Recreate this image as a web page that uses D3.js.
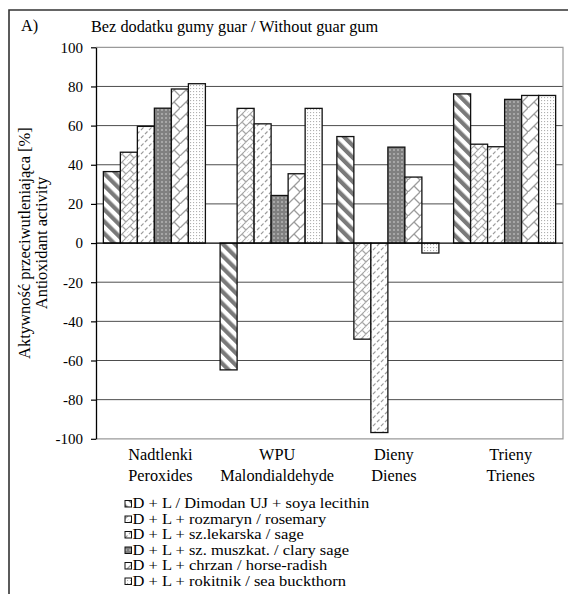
<!DOCTYPE html>
<html><head><meta charset="utf-8">
<script src="https://cdn.jsdelivr.net/npm/d3@7"></script>
<style>
body{margin:0;background:#fff;}
svg{display:block;font-family:"Liberation Serif","Times New Roman",serif;}
</style></head><body>
<svg id="c" width="568" height="594"></svg>
<script>
const categories = ["Nadtlenki|Peroxides","WPU|Malondialdehyde","Dieny|Dienes","Trieny|Trienes"];
const seriesNames = [
  "D + L / Dimodan UJ + soya lecithin",
  "D + L + rozmaryn / rosemary",
  "D + L + sz.lekarska / sage",
  "D + L + sz. muszkat. / clary sage",
  "D + L + chrzan / horse-radish",
  "D + L + rokitnik / sea buckthorn"
];
const dimodan   = [36.5, -64.8, 54.4, 76.2];
const rozmaryn  = [46.4, 68.8, -49.1, 50.5];
const lekarska  = [59.6, 60.9, -96.8, 49.2];
const muszkat   = [68.9, 24.3, 49.0, 73.4];
const chrzan    = [78.7, 35.4, 33.7, 75.4];
const rokitnik  = [81.4, 68.8, -5.1, 75.4];
const seriesValues = [dimodan, rozmaryn, lekarska, muszkat, chrzan, rokitnik];
const yTicks = [-100,-80,-60,-40,-20,0,20,40,60,80,100];
const panelLabel = "A)";
const title = "Bez dodatku gumy guar / Without guar gum";
const yTitle1 = "Aktywność przeciwutleniająca [%]";
const yTitle2 = "Antioxidant activity";

const svg = d3.select("#c");
const defs = svg.append("defs");

function pat(id, w, h, tr){
  const p = defs.append("pattern").attr("id", id).attr("patternUnits","userSpaceOnUse")
    .attr("width", w).attr("height", h);
  if (tr) p.attr("patternTransform", tr);
  p.append("rect").attr("width", w).attr("height", h).attr("fill","#fff");
  return p;
}
// 1 diagonal stripes "\"
let p = pat("p0", 8.5, 8.5, "rotate(-45)");
p.append("rect").attr("x",0).attr("width",4.2).attr("height",8.5).attr("fill","#7a7a7a");
// 2 weave
p = pat("p1", 8, 8);
p.append("path").attr("d","M0,4 L4,0 M4,8 L8,4 M2,2 L6,6 M6,-2 L10,2 M-2,6 L2,10")
  .attr("stroke","#a6a6a6").attr("stroke-width",1.2).attr("fill","none");
// 3 dashed "/"
p = pat("p2", 8, 8);
p.append("path").attr("d","M1,6 L3.5,3.5 M5,2 L7.5,-0.5 M5,10 L7.5,7.5")
  .attr("stroke","#9a9a9a").attr("stroke-width",1.1).attr("fill","none");
// 4 dark checker
p = pat("p3", 4, 4);
p.select("rect").attr("fill","#808080");
p.append("rect").attr("x",1.3).attr("y",1.3).attr("width",1.4).attr("height",1.4).attr("fill","#d0d0d0");
// 5 diagonal brick / shingle
p = pat("p4", 12, 12);
p.append("path").attr("d","M0,12 L12,0 M6,6 L12,12 M-6,6 L0,12")
  .attr("stroke","#9c9c9c").attr("stroke-width",1.3).attr("fill","none");
// 6 dots
p = pat("p5", 3, 3);
p.append("rect").attr("x",1).attr("y",1).attr("width",1.1).attr("height",1.1).attr("fill","#b0b0b0");

// outer frame
svg.append("path").attr("d","M9,594 L9,10 L568,10").attr("fill","none")
  .attr("stroke","#333").attr("stroke-width",1.6);

const L = 96, R = 563, T = 47.3, B = 438.8;
const x0 = d3.scaleBand().domain(categories).range([L,R]).paddingInner(0.126).paddingOuter(0.063);
const x1 = d3.scaleBand().domain(d3.range(seriesNames.length)).range([0, x0.bandwidth()]).padding(0);
const y = d3.scaleLinear().domain([-100,100]).range([B,T]);

// gridlines
svg.append("g").selectAll("line").data(yTicks.filter(d=>d!==0 && d!==100 && d!==-100)).join("line")
  .attr("x1",L).attr("x2",R).attr("y1",d=>y(d)).attr("y2",d=>y(d))
  .attr("stroke","#4d4d4d").attr("stroke-width",1);
// plot border
svg.append("path").attr("d",`M${L},${y(100)} L${R},${y(100)} L${R},${y(-100)} L${L},${y(-100)}`)
  .attr("fill","none").attr("stroke","#9a9a9a").attr("stroke-width",1.2);

// bars
const g = svg.append("g");
categories.forEach((c, ci) => {
  seriesValues.forEach((vals, si) => {
    const v = vals[ci];
    g.append("rect")
      .attr("x", x0(c) + x1(si))
      .attr("y", y(Math.max(0, v)))
      .attr("width", x1.bandwidth())
      .attr("height", Math.abs(y(v) - y(0)))
      .attr("fill", `url(#p${si})`)
      .attr("stroke", "#111").attr("stroke-width", 1.3);
  });
});

// zero line
svg.append("line").attr("x1",L).attr("x2",R).attr("y1",y(0)).attr("y2",y(0))
  .attr("stroke","#000").attr("stroke-width",1.2);

// y axis
const yAxis = d3.axisLeft(y).tickValues(yTicks).tickFormat(d => String(d))
  .tickSize(5).tickPadding(8).tickSizeOuter(0);
const ya = svg.append("g").attr("transform",`translate(${L},0)`).call(yAxis);
ya.attr("font-family", null);
ya.select(".domain").attr("stroke","#000").attr("stroke-width",1.3);
ya.selectAll(".tick line").attr("stroke","#000").attr("stroke-width",1.2);
ya.selectAll(".tick text").attr("font-size",15).attr("fill","#000");

// category labels
const catG = svg.append("g").attr("font-size",16.3).attr("text-anchor","middle").attr("fill","#000");
categories.forEach(c => {
  const parts = c.split("|");
  const cx = x0(c) + x0.bandwidth()/2 + 6;
  parts.forEach((t,i) => {
    catG.append("text").attr("x", cx).attr("y", 459.5 + i*21.5).text(t);
  });
});

// titles
svg.append("text").attr("x",21).attr("y",31).attr("font-size",16.3).text(panelLabel);
svg.append("text").attr("x",91).attr("y",31.5).attr("font-size",16.3).text(title);
svg.append("text").attr("transform",`translate(30,${y(0)}) rotate(-90)`).attr("text-anchor","middle")
  .attr("font-size",16.5).text(yTitle1);
svg.append("text").attr("transform",`translate(47,${y(0)}) rotate(-90)`).attr("text-anchor","middle")
  .attr("font-size",16.5).text(yTitle2);

// legend
const lg = svg.append("g");
seriesNames.forEach((n, i) => {
  const by = 508 + i*15.5;
  lg.append("rect").attr("x",125).attr("y",by-7.5).attr("width",6.5).attr("height",6.5)
    .attr("fill",`url(#p${i})`).attr("stroke","#111").attr("stroke-width",1);
  lg.append("text").attr("transform",`translate(132.5,${by}) scale(1.1,1)`).attr("font-size",15)
    .text(n);
});
</script>
</body></html>
